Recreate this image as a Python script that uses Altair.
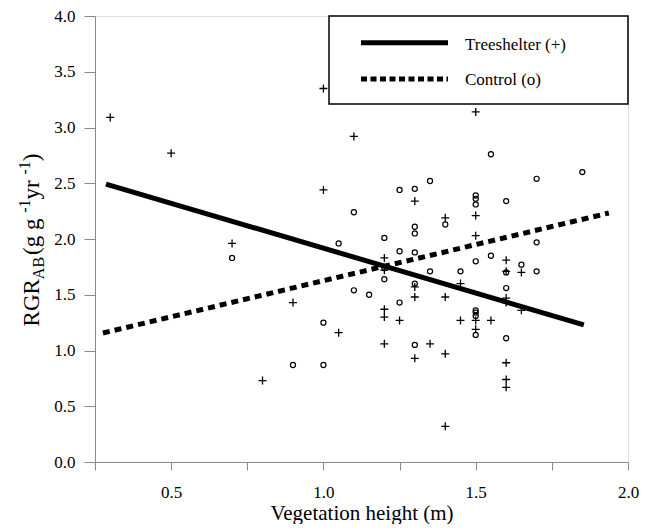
import altair as alt
import pandas as pd

# ---- data ----
ts_x = [0.30, 0.50, 0.70, 0.80, 0.90, 1.00, 1.00, 1.05, 1.10, 1.20, 1.20, 1.20, 1.20, 1.20,
        1.25, 1.30, 1.30, 1.30, 1.30, 1.35, 1.40, 1.40, 1.40, 1.40, 1.45, 1.45, 1.50, 1.50,
        1.50, 1.50, 1.50, 1.55, 1.60, 1.60, 1.60, 1.60, 1.60, 1.60, 1.60, 1.65, 1.65]
ts_y = [3.09, 2.77, 1.96, 0.73, 1.43, 3.35, 2.44, 1.16, 2.92, 1.83, 1.72, 1.37, 1.30, 1.06,
        1.27, 2.34, 1.57, 1.48, 0.93, 1.06, 2.19, 1.48, 0.97, 0.32, 1.60, 1.27, 3.14, 2.21,
        2.03, 1.27, 1.19, 1.27, 1.81, 1.71, 1.47, 1.43, 0.89, 0.74, 0.67, 1.70, 1.36]

ct_x = [0.70, 0.90, 1.00, 1.00, 1.05, 1.10, 1.10, 1.15, 1.20, 1.20, 1.20, 1.25, 1.25, 1.25,
        1.30, 1.30, 1.30, 1.30, 1.30, 1.30, 1.35, 1.35, 1.40, 1.45, 1.50, 1.50, 1.50, 1.50,
        1.50, 1.50, 1.50, 1.50, 1.55, 1.55, 1.60, 1.60, 1.60, 1.60, 1.65, 1.70, 1.70, 1.70, 1.85]
ct_y = [1.83, 0.87, 0.87, 1.25, 1.96, 2.24, 1.54, 1.50, 2.01, 1.74, 1.64, 2.44, 1.89, 1.43,
        2.45, 2.11, 2.05, 1.88, 1.60, 1.05, 2.52, 1.71, 2.13, 1.71, 2.39, 2.36, 2.31, 1.80,
        1.36, 1.34, 1.31, 1.14, 2.76, 1.85, 2.34, 1.70, 1.56, 1.11, 1.77, 2.54, 1.97, 1.71, 2.60]

fit_ts_x = [0.286, 1.855]
fit_ts_y = [2.493, 1.229]
fit_ct_x = [0.276, 1.937]
fit_ct_y = [1.157, 2.233]

x_ticks = [0.25, 0.5, 0.75, 1.0, 1.25, 1.5, 1.75, 2.0]
y_ticks = [0.0, 0.5, 1.0, 1.5, 2.0, 2.5, 3.0, 3.5, 4.0]

legend_labels = ["Treeshelter (+)", "Control (o)"]
x_title = "Vegetation height (m)"
NB = "\u00a0"
y_title_parts = ["RGR", "AB", NB + "(g" + NB + "g", "-1", NB + "yr", "-1", ")"]

FONT = "Liberation Serif"
W, H = 533, 446

xs = alt.Scale(domain=[0.25, 2.0], nice=False, zero=False)
ys = alt.Scale(domain=[0, 4], nice=False, zero=False)

x_axis = alt.Axis(values=x_ticks, title=x_title,
                  labelExpr="datum.value % 0.5 == 0 ? format(datum.value, '.1f') : ''",
                  labelFlush=False, labelOverlap=False, grid=False,
                  tickSize=8, labelPadding=27, labelBaseline="alphabetic",
                  labelFont=FONT, titleFont=FONT,
                  labelFontSize=17, titleFontSize=21, titleFontWeight="normal",
                  titleBaseline="alphabetic", titleY=57)
y_axis = alt.Axis(values=y_ticks, title=None, format=".1f", grid=False,
                  labelFlush=False, labelOverlap=False, labelFont=FONT,
                  tickSize=11, labelPadding=9, labelFontSize=17)

ts_df = pd.DataFrame({"x": ts_x, "y": ts_y})
ct_df = pd.DataFrame({"x": ct_x, "y": ct_y})
fts_df = pd.DataFrame({"x": fit_ts_x, "y": fit_ts_y})
fct_df = pd.DataFrame({"x": fit_ct_x, "y": fit_ct_y})

plus = "M-1,0L1,0M0,-1L0,1"

ts_pts = alt.Chart(ts_df).mark_point(shape=plus, size=64, filled=False, stroke="black",
                                     strokeWidth=1.3, opacity=1).encode(
    x=alt.X("x:Q", scale=xs, axis=x_axis),
    y=alt.Y("y:Q", scale=ys, axis=y_axis))
ct_pts = alt.Chart(ct_df).mark_point(shape="circle", size=26, filled=False, stroke="black",
                                     strokeWidth=1.2, opacity=1).encode(
    x=alt.X("x:Q", scale=xs, axis=x_axis),
    y=alt.Y("y:Q", scale=ys, axis=y_axis))
ts_line = alt.Chart(fts_df).mark_line(color="black", strokeWidth=5, strokeCap="butt").encode(
    x=alt.X("x:Q", scale=xs, axis=x_axis),
    y=alt.Y("y:Q", scale=ys, axis=y_axis))
ct_line = alt.Chart(fct_df).mark_line(color="black", strokeWidth=5, strokeCap="butt",
                                      strokeDash=[7, 5]).encode(
    x=alt.X("x:Q", scale=xs, axis=x_axis),
    y=alt.Y("y:Q", scale=ys, axis=y_axis))

# legend box
leg_box = alt.Chart().mark_rect(fill="white", stroke="black", strokeWidth=1.5).encode(
    x=alt.value(234), x2=alt.value(W), y=alt.value(0), y2=alt.value(88))
leg_l1 = alt.Chart().mark_rule(color="black", strokeWidth=5, strokeCap="butt").encode(
    x=alt.value(266), x2=alt.value(353), y=alt.value(26.7))
leg_l2 = alt.Chart().mark_rule(color="black", strokeWidth=5, strokeCap="butt",
                               strokeDash=[6, 3.5]).encode(
    x=alt.value(266), x2=alt.value(353), y=alt.value(63))
leg_t1 = alt.Chart().mark_text(font=FONT, fontSize=17, align="left", baseline="alphabetic",
                               color="black").encode(
    x=alt.value(370), y=alt.value(33.5), text=alt.value(legend_labels[0]))
leg_t2 = alt.Chart().mark_text(font=FONT, fontSize=17, align="left", baseline="alphabetic",
                               color="black").encode(
    x=alt.value(370), y=alt.value(69), text=alt.value(legend_labels[1]))

# y-axis title built from pieces (subscript / superscripts)
F, S = 23, 16
widths = [2.056 * F, 1.389 * S + 2, 1.833 * F, 0.833 * S, 1.083 * F, 0.833 * S, 0.333 * F]
sizes = [F, S, F, S, F, S, F]
shifts = [0, 5, 0, -9, 0, -9, 0]
base_x = -56
total = sum(widths)
start_y = 224 + total / 2
title_layers = []
pos = start_y
for part, w, sz, sh in zip(y_title_parts, widths, sizes, shifts):
    title_layers.append(
        alt.Chart().mark_text(font=FONT, fontSize=sz, angle=270, align="left",
                              baseline="alphabetic", color="black").encode(
            x=alt.value(base_x + sh), y=alt.value(pos), text=alt.value(part)))
    pos -= w

chart = alt.layer(ts_line, ct_line, ts_pts, ct_pts, leg_box, leg_l1, leg_l2, leg_t1, leg_t2,
                  *title_layers).properties(
    width=W, height=H,
    autosize=alt.AutoSizeParams(type="none"),
    padding={"left": 87, "top": 8, "right": 18, "bottom": 62},
).configure_view(stroke="black", strokeWidth=2).configure_axis(
    labelFont=FONT, titleFont=FONT, labelColor="black", titleColor="black",
    domainColor="black", domainWidth=2, tickColor="black", tickWidth=2,
).configure_text(font=FONT).configure(background="white")

chart.save("out.html", embed_options={"renderer": "svg", "actions": False})
